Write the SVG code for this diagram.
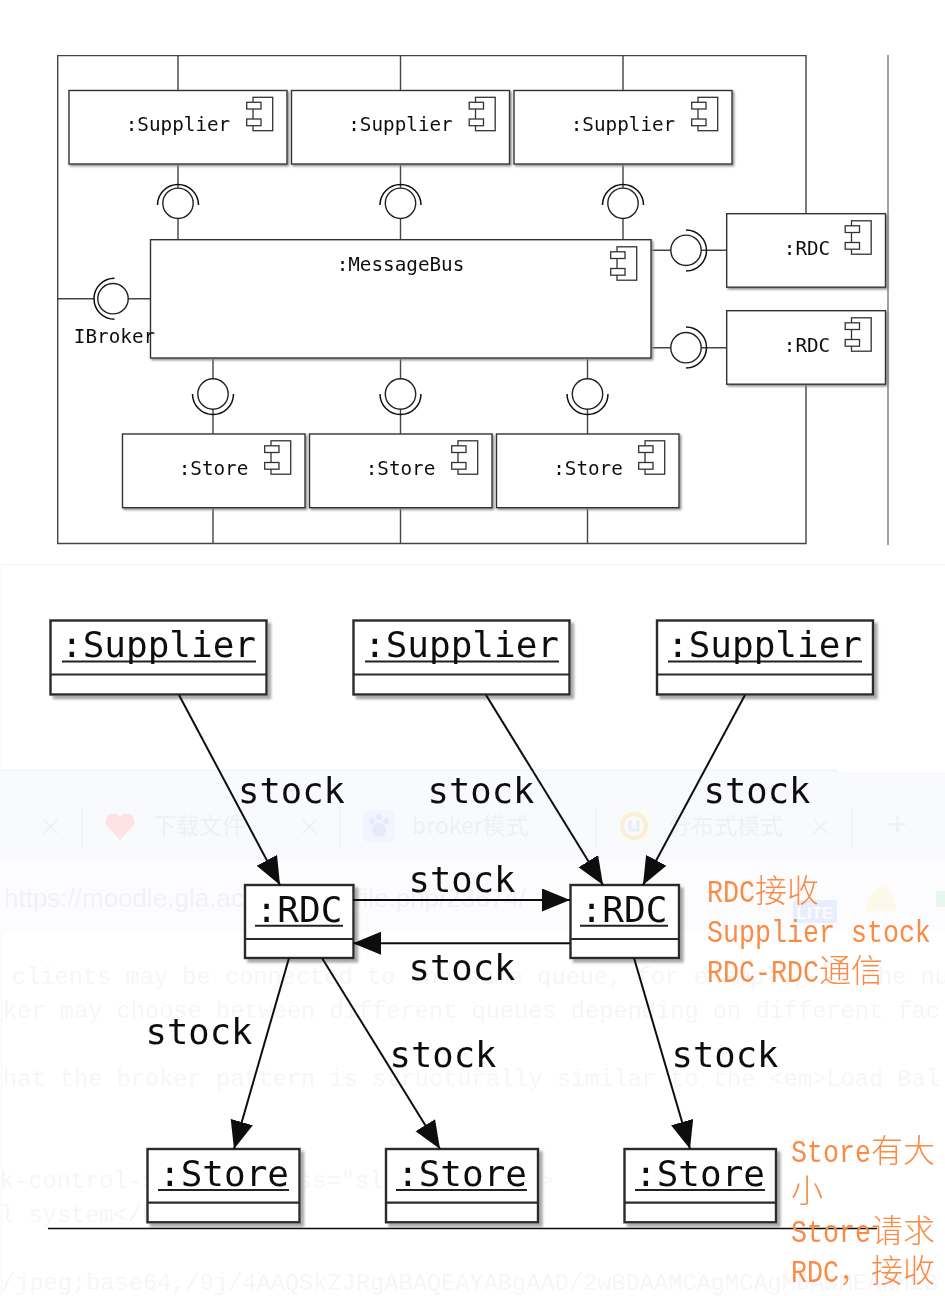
<svg xmlns="http://www.w3.org/2000/svg" width="945" height="1296" viewBox="0 0 945 1296">
<style>
.t{font-family:"DejaVu Sans Mono","Liberation Mono",monospace;fill:#111;text-anchor:middle}
.s{font-size:19.3px}
.l{font-size:35.5px}
.lb{font-size:36px}
.ln{fill:none;stroke:#444;stroke-width:1.4}
.box{fill:#fff;stroke:#333;stroke-width:1.4;filter:url(#sh)}
.ubox{fill:#fff;stroke:#2a2a2a;stroke-width:2.4;filter:url(#sh2)}
.sep{stroke:#2a2a2a;stroke-width:2.2;fill:none}
.ul{stroke:#222;stroke-width:2;fill:none}
.ball{fill:#fff;stroke:#222;stroke-width:1.4}
.arc{fill:none;stroke:#111;stroke-width:1.5}
.ar{fill:none;stroke:#111;stroke-width:2;marker-end:url(#ah)}
.o{font-family:"Liberation Mono",monospace;font-size:32px;fill:#f98b45}
.c{font-family:"Noto Sans CJK SC",sans-serif;font-size:32px;font-weight:300;fill:#f98b45}
.g{font-family:"Liberation Mono","Noto Sans CJK SC",monospace;font-size:23.67px;fill:#f5f6fa}
.g2{font-family:"Noto Sans CJK SC","Liberation Sans",sans-serif;font-size:23px;fill:#eff0f4}
.tabsep{stroke:#f1f2f6;stroke-width:1.5;fill:none}
</style>
<defs>
<filter id="sh" x="-5%" y="-5%" width="110%" height="115%"><feDropShadow dx="1.5" dy="1.5" stdDeviation="0.8" flood-color="#888"/></filter>
<filter id="sh2" x="-5%" y="-5%" width="112%" height="118%"><feDropShadow dx="3.5" dy="3.5" stdDeviation="1.2" flood-color="#aaa"/></filter>
<filter id="soft" x="0" y="0" width="100%" height="100%"><feGaussianBlur stdDeviation="0.4"/></filter>
<marker id="ah" markerUnits="userSpaceOnUse" markerWidth="30" markerHeight="24" refX="28" refY="11.5" orient="auto"><path d="M0,0 L28,11.5 L0,23 Z" fill="#0c0c0c"/></marker>
<g id="icon"><rect x="-34" y="7.3" width="19.7" height="33.4" fill="#fff" stroke="#333" stroke-width="1.3"/><rect x="-40.3" y="12.3" width="14.3" height="6.7" fill="#fff" stroke="#333" stroke-width="1.3"/><rect x="-40.3" y="29" width="14.3" height="6.7" fill="#fff" stroke="#333" stroke-width="1.3"/></g>
</defs>
<rect width="945" height="1296" fill="#fff"/>
<g filter="url(#soft)">
<g id="ghost">
<path d="M0,564.5H945M1.5,564V1296" fill="none" stroke="#f6f6fa" stroke-width="1"/>
<rect x="0" y="769" width="838" height="3" fill="#f3f6fc"/>
<rect x="0" y="772" width="945" height="88" fill="#f9fafd"/>
<rect x="0" y="860" width="945" height="72" fill="#fcfcfe"/>
<path class="tabsep" d="M82,808V847M340,808V847M596,808V847M852,808V847"/>
<text class="g2" x="153" y="834">下载文件</text>
<text class="g2" x="412" y="834">broker模式</text>
<text class="g2" x="668" y="834">分布式模式</text>
<text class="g2" x="39" y="835">×</text><text class="g2" x="298" y="835">×</text><text class="g2" x="809" y="835">×</text><text class="g2" x="888" y="837" style="font-size:34px">+</text>
<path d="M120,840 L107,826 C102,816 114,809 120,817 C126,809 138,816 133,826 Z" fill="#fde3e2"/>
<rect x="363" y="810" width="32" height="32" rx="5" fill="#f3f5fe"/>
<g fill="#e6eafb"><circle cx="372" cy="821" r="3"/><circle cx="379" cy="817" r="3"/><circle cx="386" cy="821" r="3"/><circle cx="379" cy="830" r="7"/></g>
<rect x="619" y="810" width="32" height="32" rx="5" fill="#fbfaf5"/>
<circle cx="634" cy="826" r="12" fill="none" stroke="#f8efd9" stroke-width="4"/>
<path d="M630,820V830H638V820" fill="none" stroke="#e6ecfa" stroke-width="3"/>
<text x="4" y="907" style="font-family:'Liberation Sans',sans-serif;font-size:26px;fill:#f2f2f4">https://moodle.gla.ac.uk/pluginfile.php/23674/</text>
<rect x="793" y="900" width="44" height="23" rx="3" fill="#e8eefb"/>
<text x="815" y="919" text-anchor="middle" style="font-family:'Liberation Sans',sans-serif;font-size:17px;font-weight:700;fill:#fbfcff">LITE</text>
<path d="M864,911 C868,892 882,884 886,884 C892,892 896,902 896,911 Z" fill="#fdf9ea"/>
<rect x="936" y="891" width="9" height="16" fill="#e8f6ec"/>
<text class="g" x="12" y="984">clients may be connected to the same queue, for example, if the nu</text>
<text class="g" x="3" y="1018">ker may choose between different queues depending on different fac</text>
<text class="g" x="3" y="1086">hat the broker pattern is structurally similar to the &lt;em&gt;Load Bal</text>
<text class="g" x="0" y="1188">k-control-system" class="slide-layout"&gt;</text>
<text class="g" x="0" y="1222">l system&lt;/h1&gt;</text>
<text class="g" x="1" y="1290">/jpeg;base64,/9j/4AAQSkZJRgABAQEAYABgAAD/2wBDAAMCAgMCAgMDAwMEAwMEB</text>
</g>
<g id="top-connectors">
<path class="ln" d="M806,214V55.5H57.7V543.5H806V384"/>
<path class="ln" style="stroke:#777" d="M888,55V545"/>
<path class="ln" d="M178,55V90M400.5,55V90M623,55V90M178,164V188M400.5,164V188M623,164V188M178,218V240M400.5,218V240M623,218V240M57,298.7H94M128,298.7H150M651,250.3H672M701,250.3H727M651,347.7H672M701,347.7H727M213,358V379M400.5,358V379M587.5,358V379M213,409V434M400.5,409V434M587.5,409V434M213,508V543M400.5,508V543M587.5,508V543"/>
<g id="balls">
<circle class="ball" cx="178" cy="203.3" r="15.2"/><circle class="ball" cx="400.5" cy="203.3" r="15.2"/><circle class="ball" cx="623" cy="203.3" r="15.2"/>
<path class="arc" d="M157.5,205A20.5,20.5 0 0 1 198.5,205M380,205A20.5,20.5 0 0 1 421,205M602.5,205A20.5,20.5 0 0 1 643.5,205"/>
<circle class="ball" cx="113" cy="298.7" r="15.2"/><path class="arc" d="M114.5,278.2A20.5,20.5 0 0 0 114.5,319.2"/>
<circle class="ball" cx="686" cy="250.3" r="15.2"/><path class="arc" d="M686,230A20.5,20.5 0 0 1 686,271"/>
<circle class="ball" cx="686" cy="347.7" r="15.2"/><path class="arc" d="M686,327A20.5,20.5 0 0 1 686,368"/>
<circle class="ball" cx="213" cy="394" r="15.2"/><circle class="ball" cx="400.5" cy="394" r="15.2"/><circle class="ball" cx="587.5" cy="394" r="15.2"/>
<path class="arc" d="M192.5,394A20.5,20.5 0 0 0 233.5,394M380,394A20.5,20.5 0 0 0 421,394M567,394A20.5,20.5 0 0 0 608,394"/>
</g>
</g>
<g id="c-supplier-1"><rect class="box" x="69" y="90.5" width="218" height="73.5"/><use href="#icon" x="287" y="90"/><text class="t s" x="178" y="131">:Supplier</text></g>
<g id="c-supplier-2"><rect class="box" x="291.5" y="90.5" width="218" height="73.5"/><use href="#icon" x="509.5" y="90"/><text class="t s" x="400.5" y="131">:Supplier</text></g>
<g id="c-supplier-3"><rect class="box" x="514" y="90.5" width="218" height="73.5"/><use href="#icon" x="732" y="90"/><text class="t s" x="623" y="131">:Supplier</text></g>
<g id="c-bus"><rect class="box" x="150.5" y="239.7" width="500.5" height="118.3"/><use href="#icon" x="651" y="239.5"/><text class="t s" x="400.5" y="271">:MessageBus</text></g>
<g id="c-ibroker"><text class="t s" x="114.5" y="342.5">IBroker</text></g>
<g id="c-rdc-1"><rect class="box" x="726.7" y="213.7" width="158.8" height="73.5"/><use href="#icon" x="885.5" y="213.5"/><text class="t s" x="807" y="254.5">:RDC</text></g>
<g id="c-rdc-2"><rect class="box" x="726.7" y="310.7" width="158.8" height="73.5"/><use href="#icon" x="885.5" y="310.5"/><text class="t s" x="807" y="351.5">:RDC</text></g>
<g id="c-store-1"><rect class="box" x="122.5" y="434" width="182.5" height="73.7"/><use href="#icon" x="305" y="433.5"/><text class="t s" x="213.5" y="475">:Store</text></g>
<g id="c-store-2"><rect class="box" x="309.5" y="434" width="182.5" height="73.7"/><use href="#icon" x="492" y="433.5"/><text class="t s" x="400.5" y="475">:Store</text></g>
<g id="c-store-3"><rect class="box" x="496.5" y="434" width="182.5" height="73.7"/><use href="#icon" x="679" y="433.5"/><text class="t s" x="588" y="475">:Store</text></g>

<g id="o-supplier-1"><rect class="ubox" x="50.5" y="620.5" width="216" height="74"/><path class="sep" d="M50.5,674.5H266.5"/><path class="ul" d="M62,661.5H256"/><text class="t lb" x="158.5" y="657">:Supplier</text></g>
<g id="o-supplier-2"><rect class="ubox" x="353.5" y="620.5" width="216" height="74"/><path class="sep" d="M353.5,674.5H569.5"/><path class="ul" d="M365,661.5H559"/><text class="t lb" x="461.5" y="657">:Supplier</text></g>
<g id="o-supplier-3"><rect class="ubox" x="657" y="620.5" width="216" height="74"/><path class="sep" d="M657,674.5H873"/><path class="ul" d="M668,661.5H862"/><text class="t lb" x="764.5" y="657">:Supplier</text></g>
<g id="o-rdc-1"><rect class="ubox" x="245" y="885" width="108.5" height="73"/><path class="sep" d="M245,939H353.5"/><path class="ul" d="M255,925.7H343"/><text class="t lb" x="299" y="922">:RDC</text></g>
<g id="o-rdc-2"><rect class="ubox" x="570.5" y="885" width="108.5" height="73"/><path class="sep" d="M570.5,939H679"/><path class="ul" d="M580,925.7H668"/><text class="t lb" x="624" y="922">:RDC</text></g>
<g id="o-store-1"><rect class="ubox" x="147.5" y="1149" width="152" height="73.3"/><path class="sep" d="M147.5,1202.7H299.5"/><path class="ul" d="M158,1190H289"/><text class="t lb" x="224" y="1186">:Store</text></g>
<g id="o-store-2"><rect class="ubox" x="386" y="1149" width="152" height="73.3"/><path class="sep" d="M386,1202.7H538"/><path class="ul" d="M396,1190H527"/><text class="t lb" x="462" y="1186">:Store</text></g>
<g id="o-store-3"><rect class="ubox" x="624.5" y="1149" width="151.5" height="73.3"/><path class="sep" d="M624.5,1202.7H776"/><path class="ul" d="M635,1190H765"/><text class="t lb" x="700" y="1186">:Store</text></g>
<g id="connectors">
<path class="ar" d="M179,695L280,885"/>
<path class="ar" d="M486,695L603,885"/>
<path class="ar" d="M745,695L643,885"/>
<path class="ar" d="M353,900H570"/>
<path class="ar" d="M570,943.3H353"/>
<path class="ar" d="M289,958L234,1149"/>
<path class="ar" d="M322,958L440,1149"/>
<path class="ar" d="M634,958L690,1149"/>
</g>
<g id="edge-labels">
<text class="t l" x="291.5" y="803">stock</text>
<text class="t l" x="481" y="803">stock</text>
<text class="t l" x="757" y="803">stock</text>
<text class="t l" x="462" y="892">stock</text>
<text class="t l" x="462" y="980">stock</text>
<text class="t l" x="199" y="1044">stock</text>
<text class="t l" x="443" y="1067">stock</text>
<text class="t l" x="725" y="1067">stock</text>
</g>
<path id="rule" d="M48,1228.5H877" stroke="#111" stroke-width="1.3" fill="none"/>
<g id="notes">
<text class="o" transform="translate(707,902) scale(.833,1)">RDC</text><text class="c" x="755" y="902">接收</text>
<text class="o" transform="translate(707,942) scale(.833,1)">Supplier stock</text>
<text class="o" transform="translate(707,982) scale(.833,1)">RDC-RDC</text><text class="c" x="819" y="982">通信</text>
<text class="o" transform="translate(791,1162) scale(.833,1)">Store</text><text class="c" x="871" y="1162">有大</text>
<text class="c" x="791" y="1202">小</text>
<text class="o" transform="translate(791,1242) scale(.833,1)">Store</text><text class="c" x="871" y="1242">请求</text>
<text class="o" transform="translate(791,1282) scale(.833,1)">RDC</text><text class="c" x="839" y="1282">，接收</text>
</g>
</g>
</svg>
